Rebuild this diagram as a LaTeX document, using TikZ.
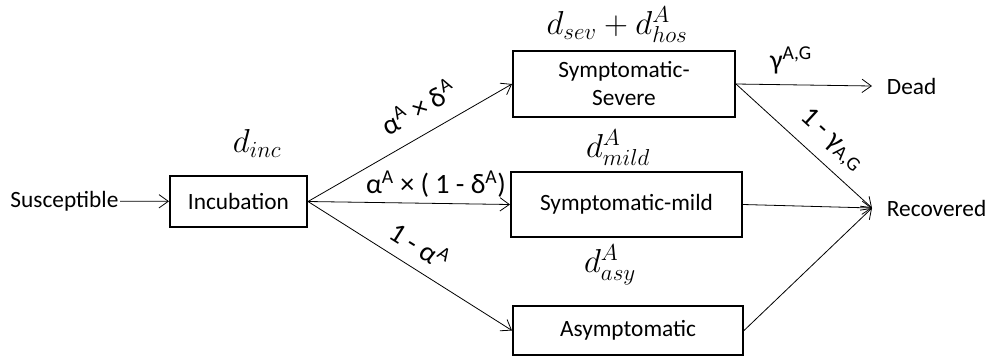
\documentclass[tikz,border=0pt]{standalone}
\usepackage{fontspec}
\setmainfont{Carlito}
\usetikzlibrary{arrows.meta}
\DeclareMathSizes{23}{23}{17}{13}
\begin{document}
\begin{tikzpicture}[x=0.75pt,y=-0.75pt,
  box/.style={draw,line width=1.5pt,inner sep=0pt,align=center,font=\fontsize{17.5}{21}\selectfont},
  conn/.style={line width=0.6pt,-{Straight Barb[length=7pt,width=10pt]}},
  lbl/.style={inner sep=1pt,font=\fontsize{17.5}{21}\selectfont},
  plbl/.style={inner sep=0pt,font=\fontsize{21}{24}\selectfont},
  mlbl/.style={inner sep=0pt,font=\fontsize{23}{26}\selectfont}]
\useasboundingbox (0,0) rectangle (993,362);
% boxes
\node[box,minimum width=102.75pt,minimum height=38.25pt] (inc) at (238.5,201.5) {Incubation};
\node[box,minimum width=166.5pt,minimum height=49.5pt] (sev) at (624,84) {Symptomatic-\\Severe};
\node[box,minimum width=173.25pt,minimum height=48.75pt] (mild) at (626.5,204.5) {Symptomatic-mild};
\node[box,minimum width=172.5pt,minimum height=36.75pt] (asy) at (628,330.5) {Asymptomatic};
% plain texts
\node[lbl,anchor=east] (sus) at (120,201) {Susceptible};
\node[lbl,anchor=west,inner xsep=11pt] (dead) at (872,86) {Dead};
\node[lbl,anchor=west,inner xsep=11pt] (rec) at (872,208) {Recovered};
% connectors
\draw[conn] (sus) -- (inc);
\draw[conn] (inc.east) -- (sev.west);
\draw[conn] (inc.east) -- (mild.west);
\draw[conn] (inc.east) -- (asy.west);
\draw[conn] (sev.east) -- (dead.west);
\draw[conn] (sev.east) -- (rec.west);
\draw[conn] (mild.east) -- (rec.west);
\draw[conn] (asy.east) -- (rec.west);
% duration labels
\node[mlbl] (dinc) at (257,143) {$d_{inc}$};
\node[mlbl] (dsev) at (617,25) {$d_{sev}+d^{A}_{hos}$};
\node[mlbl] (dmild) at (618,148) {$d^{A}_{mild}$};
\node[mlbl] (dasy) at (610,265) {$d^{A}_{asy}$};
% probability labels
\node[plbl,rotate=29.6] (p1) at (418,107) {α\textsuperscript{A} × δ\textsuperscript{A}};
\node[plbl] (p2) at (436,184) {α\textsuperscript{A} × ( 1 - δ\textsuperscript{A})};
\node[plbl,rotate=-32] (p3) at (420,245) {1 - α\textsuperscript{A}};
\node[plbl] (g1) at (791,60) {γ\textsuperscript{A,G}};
\node[plbl,rotate=-42.4] (g2) at (832,140) {1 - γ\textsubscript{A,G}};
\end{tikzpicture}
\end{document}
